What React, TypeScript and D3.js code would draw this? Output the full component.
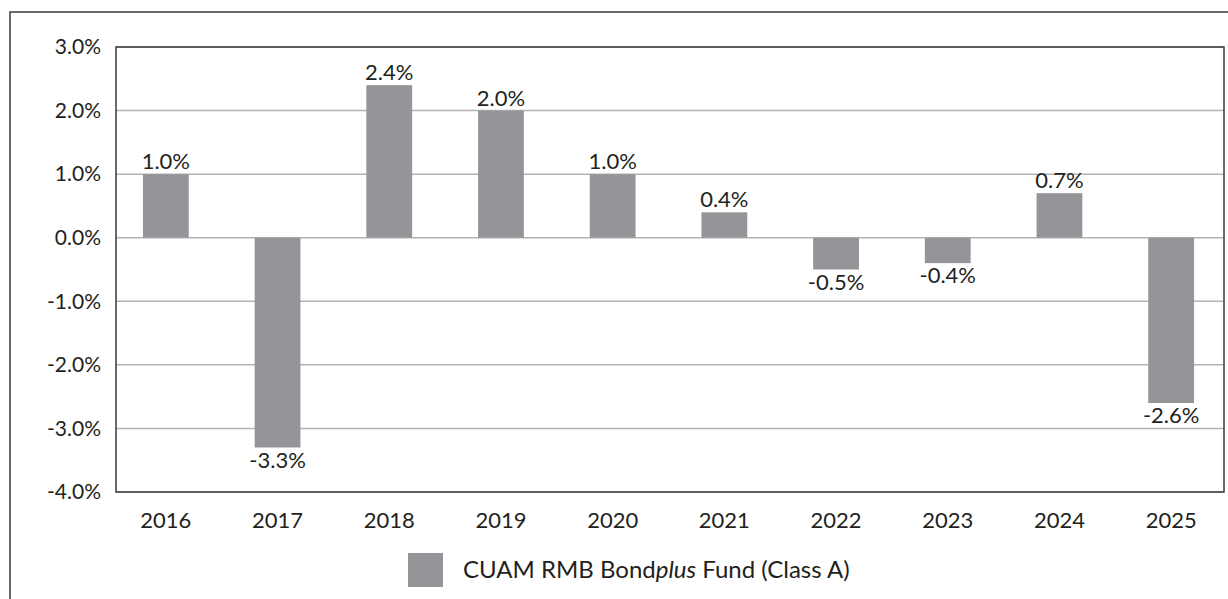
import * as d3 from "d3";
import React, { useEffect, useRef } from "react";

const years = ["2016", "2017", "2018", "2019", "2020", "2021", "2022", "2023", "2024", "2025"];
const returns = [1.0, -3.3, 2.4, 2.0, 1.0, 0.4, -0.5, -0.4, 0.7, -2.6];
const yTicks = [3, 2, 1, 0, -1, -2, -3, -4];
const seriesName = ["CUAM RMB Bond", "plus", " Fund (Class A)"];

const App = () => {
  const svgRef = useRef<SVGSVGElement>(null);

  useEffect(() => {
    const width = 1228;
    const height = 599;
    const plot = { left: 116, right: 1224, top: 47, bottom: 492 };
    const barColor = "#939598";
    const textColor = "#231f20";
    const font = "Lato, 'Open Sans', sans-serif";

    const svg = d3
      .select(svgRef.current)
      .attr("width", width)
      .attr("height", height)
      .style("background", "#fff");
    svg.selectAll("*").remove();

    // outer frame
    svg
      .append("rect")
      .attr("x", 10)
      .attr("y", 12)
      .attr("width", 1240)
      .attr("height", 620)
      .attr("fill", "none")
      .attr("stroke", "#3a3a3a")
      .attr("stroke-width", 1.5);

    //scales
    const xScale = d3
      .scaleBand()
      .domain(years)
      .range([110, 1227])
      .paddingInner(0.59)
      .paddingOuter(0.295);
    const yScale = d3.scaleLinear().domain([-4, 3]).range([plot.bottom, plot.top]);

    // gridlines
    svg
      .append("g")
      .selectAll("line")
      .data(yTicks)
      .join("line")
      .attr("x1", plot.left)
      .attr("x2", plot.right)
      .attr("y1", (d) => yScale(d))
      .attr("y2", (d) => yScale(d))
      .attr("stroke", "#b3b3b3")
      .attr("stroke-width", 1.5);

    // y tick labels
    svg
      .append("g")
      .selectAll("text")
      .data(yTicks)
      .join("text")
      .attr("x", 101)
      .attr("y", (d) => yScale(d))
      .attr("dy", "0.35em")
      .attr("text-anchor", "end")
      .attr("font-family", font)
      .attr("font-size", 21)
      .attr("fill", textColor)
      .text((d) => d.toFixed(1) + "%");

    // bars
    svg
      .append("g")
      .selectAll("rect")
      .data(returns)
      .join("rect")
      .attr("x", (d, i) => xScale(years[i])!)
      .attr("width", xScale.bandwidth())
      .attr("y", (d) => yScale(Math.max(0, d)))
      .attr("height", (d) => Math.abs(yScale(d) - yScale(0)))
      .attr("fill", barColor);

    // value labels
    svg
      .append("g")
      .selectAll("text")
      .data(returns)
      .join("text")
      .attr("x", (d, i) => xScale(years[i])! + xScale.bandwidth() / 2)
      .attr("y", (d) => (d >= 0 ? yScale(d) - 5 : yScale(d) + 20))
      .attr("text-anchor", "middle")
      .attr("font-family", font)
      .attr("font-size", 22)
      .attr("fill", textColor)
      .text((d) => d.toFixed(1) + "%");

    // plot border
    svg
      .append("rect")
      .attr("x", plot.left)
      .attr("y", plot.top)
      .attr("width", plot.right - plot.left)
      .attr("height", plot.bottom - plot.top)
      .attr("fill", "none")
      .attr("stroke", "#3a3a3a")
      .attr("stroke-width", 1.5);

    // x labels
    svg
      .append("g")
      .selectAll("text")
      .data(years)
      .join("text")
      .attr("x", (d) => xScale(d)! + xScale.bandwidth() / 2)
      .attr("y", 528)
      .attr("text-anchor", "middle")
      .attr("font-family", font)
      .attr("font-size", 22)
      .attr("fill", textColor)
      .text((d) => d);

    // legend
    svg
      .append("rect")
      .attr("x", 408)
      .attr("y", 553)
      .attr("width", 35)
      .attr("height", 34)
      .attr("fill", barColor);
    const legendText = svg
      .append("text")
      .attr("x", 463)
      .attr("y", 578)
      .attr("font-family", font)
      .attr("font-size", 24)
      .attr("fill", textColor);
    legendText
      .selectAll("tspan")
      .data(seriesName)
      .join("tspan")
      .attr("font-style", (d, i) => (i === 1 ? "italic" : "normal"))
      .text((d) => d);
  }, []);

  return (
    <svg
      ref={svgRef}
      style={{ position: "absolute", left: 0, top: 0, display: "block" }}
    ></svg>
  );
};

export default App;
